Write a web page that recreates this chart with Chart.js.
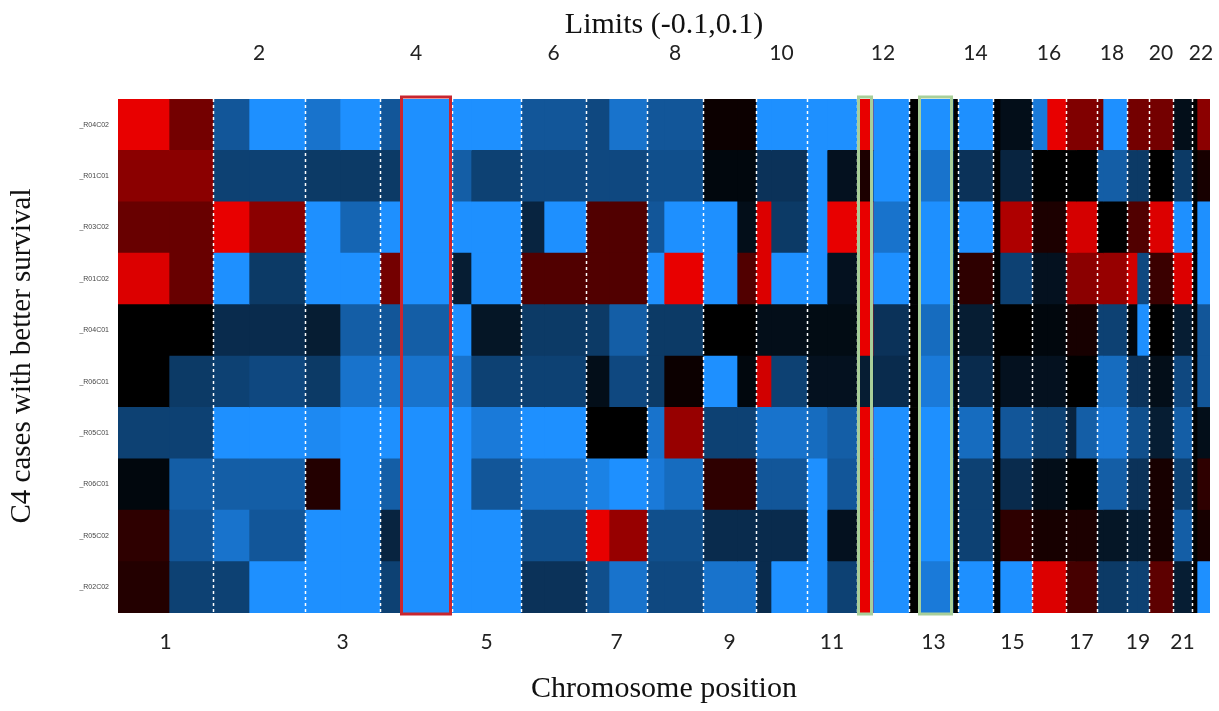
<!DOCTYPE html>
<html>
<head>
<meta charset="utf-8">
<title>Limits (-0.1,0.1)</title>
<script src="https://cdn.jsdelivr.net/npm/chart.js@4.4.1/dist/chart.umd.min.js"></script>
<style>
  html, body { margin: 0; padding: 0; background: #fff; }
  #wrap { width: 1219px; height: 711px; }
</style>
</head>
<body>
<div id="wrap"><canvas id="heatmap" width="1219" height="711"></canvas></div>
<script>
/* ── Données ── */
const SAMPLES = ['_R04C02', '_R01C01', '_R03C02', '_R01C02', '_R04C01',
                 '_R06C01', '_R05C01', '_R06C01', '_R05C02', '_R02C02'];

const CHROMOSOMES = ['1','2','3','4','5','6','7','8','9','10','11',
                     '12','13','14','15','16','17','18','19','20','21','22'];

// start of each chromosome on the position axis
const CHROM_STARTS = [0, 95, 187, 262, 334, 403, 468, 529, 585, 638, 689,
                      739, 791, 840, 875, 914, 948, 979, 1009, 1031, 1055, 1074];
const GENOME_END = 1092;

// segment edges (42 segments)
const BIN_EDGES = [0, 51, 95, 131, 187, 222, 262, 282, 334, 353, 403, 426, 468, 491,
                   529, 546, 585, 619, 638, 653, 689, 709, 739, 755, 791, 800, 835, 840,
                   875, 882, 914, 929, 948, 958, 979, 985, 1009, 1019, 1031, 1055, 1074,
                   1079, 1092];

const LIMIT = 0.1;

// segment values per sample, top row first
const vals_R04C02 = [.1,.05, -.06,-.1, -.08,-.1, -.06,-.1, -.1,-.1, -.06,-.06, -.05,-.08, -.06,-.06,
  .005,.005, -.1,-.1, -.1,-.1, .1,-.1, 0,-.1,0, -.1, 0,-.01, -.085,.1, .055,.055, .05,-.1, .05,.05,
  .05, -.01, 0,.06];
const vals_R01C01 = [.06,.06, -.045,-.045, -.04,-.04, -.04,-.1, -.065,-.045, -.05,-.05, -.05,-.05, -.055,-.055,
  -.005,-.005, -.035,-.035, -.1,-.012, .012,-.1, 0,-.08,0, -.035, 0,-.025, 0,0, 0,0, -.065,-.065, -.04,-.04,
  0, -.04, 0,.01];
const vals_R03C02 = [.045,.045, .1,.06, -.1,-.07, -.1,-.1, -.1,-.1, -.025,-.1, .035,.035, -.06,-.1,
  -.1,-.01, .095,-.04, -.1,.1, .1,-.08, 0,-.1,0, -.1, 0,.075, .012,.012, .092,.092, 0,0, .035,.035,
  .095, -.1, 0,-.1];
const vals_R01C02 = [.095,.045, -.1,-.04, -.1,-.1, .05,-.1, -.02,-.1, .035,.035, .035,.035, -.1,.1,
  -.1,.035, .095,-.1, -.1,-.012, .1,-.1, 0,-.1,0, .02, 0,-.045, -.012,-.012, .06,.06, .065,.065, .09,-.05,
  .025, .095, 0,-.1];
const vals_R04C01 = [0,0, -.03,-.03, -.02,-.065, -.06,-.065, -.1,-.015, -.04,-.04, -.04,-.065, -.04,-.04,
  0,0, -.01,-.01, -.008,-.008, .1,-.035, 0,-.075,0, -.02, 0,0, -.005,-.005, .01,.01, -.045,-.045, -.005,-.1,
  0, -.02, 0,-.06];
const vals_R06C01a = [0,-.04, -.045,-.05, -.04,-.08, -.08,-.08, -.08,-.045, -.045,-.045, -.01,-.05, -.04,.005,
  -.1,-.005, .09,-.045, -.012,-.012, -.02,-.03, 0,-.085,0, -.03, 0,-.012, -.012,-.012, 0,0, -.075,-.075, -.035,-.035,
  -.01, -.05, 0,-.06];
const vals_R05C01 = [-.045,-.045, -.1,-.1, -.095,-.1, -.1,-.1, -.1,-.085, -.1,-.1, 0,0, -.08,.065,
  -.045,-.045, -.08,-.08, -.075,-.065, .1,-.1, 0,-.1,0, -.075, 0,-.06, -.045,-.045, -.025,-.065, -.085,-.085, -.055,-.055,
  -.02, -.065, 0,-.01];
const vals_R06C01b = [-.005,-.065, -.065,-.065, .015,-.1, -.065,-.1, -.1,-.06, -.08,-.08, -.09,-.1, -.085,-.075,
  .02,.02, -.06,-.06, -.1,-.06, .1,-.1, 0,-.1,0, -.045, 0,-.03, -.01,-.01, 0,0, -.065,-.065, -.035,-.035,
  .01, -.045, 0,.02];
const vals_R05C02 = [.02,-.06, -.08,-.06, -.1,-.1, -.025,-.1, -.1,-.1, -.055,-.055, .1,.065, -.055,-.055,
  -.03,-.03, -.03,-.03, -.1,-.012, .1,-.1, 0,-.1,0, -.045, 0,.02, .01,.01, .012,.012, -.015,-.015, -.02,-.02,
  .01, -.065, 0,.01];
const vals_R02C02 = [.015,-.045, -.045,-.1, -.1,-.1, -.045,-.1, -.1,-.1, -.035,-.035, -.055,-.08, -.05,-.05,
  -.08,-.08, -.03,-.1, -.1,-.045, .1,-.1, 0,-.085,0, -.1, 0,-.1, .095,.095, .03,.03, -.04,-.04, -.045,-.045,
  .04, -.02, 0,-.1];

const ROWS = [vals_R04C02, vals_R01C01, vals_R03C02, vals_R01C02, vals_R04C01,
              vals_R06C01a, vals_R05C01, vals_R06C01b, vals_R05C02, vals_R02C02];

// highlighted segments [from, to]
const HIGHLIGHT_SEGMENTS = [[282, 334], [739, 755], [800, 835]];

/* ── Styles ── */
const HIGHLIGHT_COLORS = ['#c9262f', '#a8cf9a', '#a8cf9a'];
const TICK_FONT = { family: 'Lato', size: 21 };
const SERIF = 'Liberation Serif';

function cellColor(v) {
  const t = Math.min(Math.abs(v) / LIMIT, 1);
  if (v >= 0) return `rgb(${Math.round(232 * t)},0,0)`;
  return `rgb(${Math.round(30 * t)},${Math.round(144 * t)},${Math.round(255 * t)})`;
}

function chromMid(i) {
  const end = i + 1 < CHROM_STARTS.length ? CHROM_STARTS[i + 1] : GENOME_END;
  return (CHROM_STARTS[i] + end) / 2;
}

const evenIdx = CHROMOSOMES.map((c, i) => i).filter(i => i % 2 === 1);
const oddIdx = CHROMOSOMES.map((c, i) => i).filter(i => i % 2 === 0);

// no extra room for the end labels
function fitX(height) {
  return s => { s.height = height; s.paddingLeft = 0; s.paddingRight = 0; };
}

/* ── Lignes pointillées + cadres ── */
const overlay = {
  id: 'overlay',
  afterDatasetsDraw(chart) {
    const { ctx, chartArea: a, scales: { x } } = chart;
    ctx.save();
    ctx.strokeStyle = '#ffffff';
    ctx.lineWidth = 1.5;
    ctx.setLineDash([3, 3]);
    CHROM_STARTS.slice(1).forEach(s => {
      const px = Math.round(x.getPixelForValue(s)) + 0.5;
      ctx.beginPath();
      ctx.moveTo(px, a.top);
      ctx.lineTo(px, a.bottom);
      ctx.stroke();
    });
    ctx.setLineDash([]);
    ctx.lineWidth = 3;
    HIGHLIGHT_SEGMENTS.forEach((seg, i) => {
      const x0 = x.getPixelForValue(seg[0]) + 1.5;
      const x1 = x.getPixelForValue(seg[1]) - 1.5;
      ctx.strokeStyle = HIGHLIGHT_COLORS[i];
      ctx.strokeRect(x0, a.top - 2, x1 - x0, a.bottom - a.top + 3);
    });
    ctx.restore();
  }
};

/* ── Graphique ── */
const datasets = BIN_EDGES.slice(0, -1).map((start, b) => ({
  data: SAMPLES.map(() => [start, BIN_EDGES[b + 1]]),
  backgroundColor: ROWS.map(r => cellColor(r[b])),
  borderWidth: 0,
  grouped: false,
  barPercentage: 1,
  categoryPercentage: 1,
}));

new Chart(document.getElementById('heatmap'), {
  type: 'bar',
  data: { labels: SAMPLES, datasets },
  plugins: [overlay],
  options: {
    indexAxis: 'y',
    responsive: false,
    animation: false,
    devicePixelRatio: 1,
    layout: { padding: { left: 0, right: 9, top: 0, bottom: 0 } },
    plugins: { legend: { display: false }, tooltip: { enabled: false } },
    scales: {
      x: {
        type: 'linear', position: 'bottom', min: 0, max: GENOME_END,
        grid: { display: false, drawTicks: false }, border: { display: false },
        afterBuildTicks: s => { s.ticks = oddIdx.map(i => ({ value: chromMid(i) })); },
        ticks: { autoSkip: false, maxRotation: 0, padding: 17, font: TICK_FONT, color: '#222',
                 callback: (v, i) => CHROMOSOMES[oddIdx[i]] },
        title: { display: true, text: 'Chromosome position', color: '#111',
                 font: { family: SERIF, size: 30 }, padding: { top: 0, bottom: 4 } },
        afterFit: fitX(98)
      },
      x2: {
        type: 'linear', position: 'top', min: 0, max: GENOME_END,
        grid: { display: false, drawTicks: false }, border: { display: false },
        afterBuildTicks: s => { s.ticks = evenIdx.map(i => ({ value: chromMid(i) })); },
        ticks: { autoSkip: false, maxRotation: 0, padding: 33, font: TICK_FONT, color: '#222',
                 callback: (v, i) => CHROMOSOMES[evenIdx[i]] },
        title: { display: true, text: 'Limits (-0.1,0.1)', color: '#111',
                 font: { family: SERIF, size: 30 }, padding: { top: 7, bottom: 0 } },
        afterFit: fitX(99)
      },
      y: {
        grid: { display: false, drawTicks: false }, border: { display: false },
        ticks: { font: { family: 'Liberation Sans', size: 7 }, color: '#444', padding: 9 },
        title: { display: true, text: 'C4 cases with better survival', color: '#111',
                 font: { family: SERIF, size: 29 }, padding: { top: 5, bottom: 0 } },
        afterFit: s => { s.width = 118; s.paddingTop = 0; s.paddingBottom = 0; }
      }
    }
  }
});
</script>
</body>
</html>
